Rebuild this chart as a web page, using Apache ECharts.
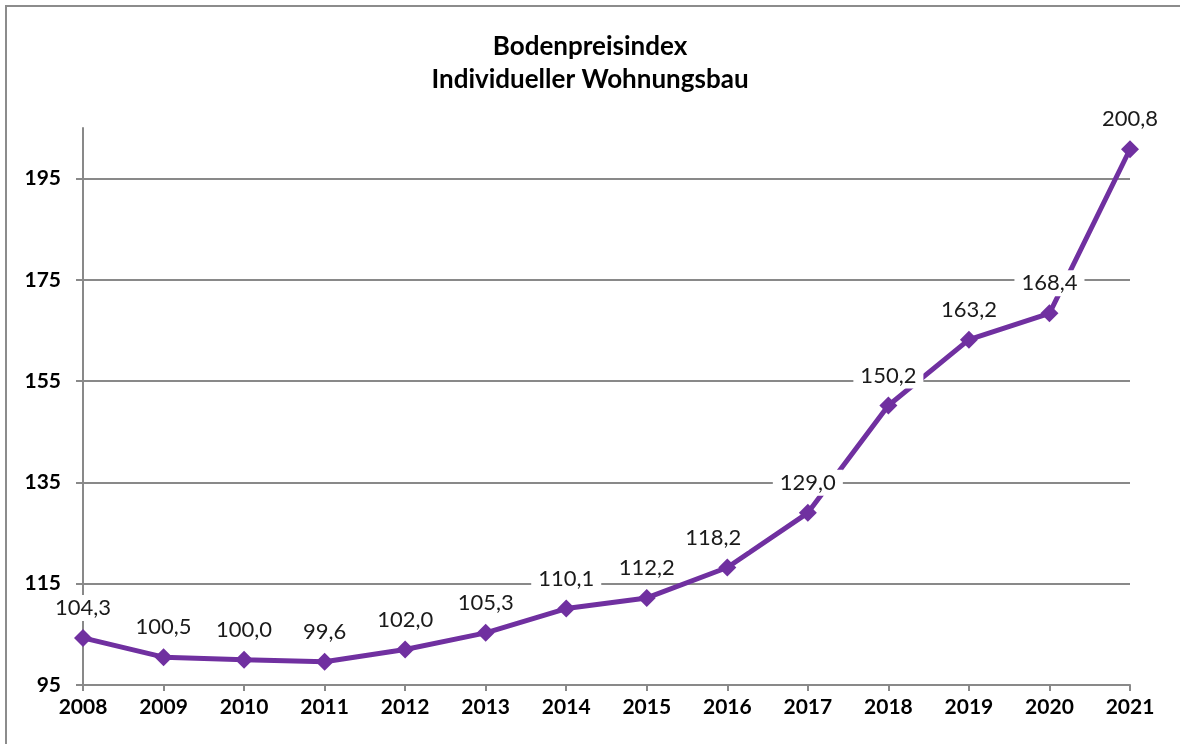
<!DOCTYPE html>
<html>
<head>
<meta charset="utf-8">
<script src="https://cdn.jsdelivr.net/npm/echarts@6/dist/echarts.min.js"></script>
<style>
html,body{margin:0;padding:0;background:#fff;}
#chart{width:1180px;height:744px;}
</style>
</head>
<body>
<div id="chart"></div>
<script>
const years = ['2008','2009','2010','2011','2012','2013','2014','2015','2016','2017','2018','2019','2020','2021'];
const indexValues = [104.3,100.5,100.0,99.6,102.0,105.3,110.1,112.2,118.2,129.0,150.2,163.2,168.4,200.8];
const yTicks = [95,115,135,155,175,195];
const titleLines = ['Bodenpreisindex','Individueller Wohnungsbau'];

const FONT = 'Lato, "Open Sans", sans-serif';
const labelOffsets = {8: [-14, 0]};

const chart = echarts.init(document.getElementById('chart'), null, {renderer:'canvas'});
chart.setOption({
  animation: false,
  backgroundColor: '#fff',
  title: {
    text: titleLines.join('\n'),
    left: 'center',
    top: 25,
    textStyle: {fontFamily: FONT, fontWeight: 'bold', fontSize: 26, color: '#000', lineHeight: 33}
  },
  graphic: [{
    type: 'polyline',
    shape: {points: [[6, 744], [6, 6], [1180, 6]]},
    style: {stroke: '#8c8c8c', lineWidth: 2, fill: null},
    silent: true
  }],
  grid: {left: 83, right: 50, top: 128, bottom: 59, containLabel: false},
  xAxis: {
    type: 'category',
    data: years,
    boundaryGap: false,
    axisLine: {lineStyle: {color: '#898989', width: 2}},
    axisTick: {show: true, length: 6, alignWithLabel: true, lineStyle: {color: '#898989', width: 2}},
    axisLabel: {fontFamily: FONT, fontWeight: 'bold', fontSize: 21, color: '#000', margin: 12},
    splitLine: {show: false}
  },
  yAxis: {
    type: 'value',
    min: 95,
    max: 205,
    interval: 20,
    axisLine: {show: true, lineStyle: {color: '#898989', width: 2}},
    axisTick: {show: true, length: 7, customValues: yTicks, lineStyle: {color: '#898989', width: 2}},
    axisLabel: {fontFamily: FONT, fontWeight: 'bold', fontSize: 21, color: '#000', margin: 22, customValues: yTicks},
    splitLine: {show: true, showMinLine: false, lineStyle: {color: '#898989', width: 2}}
  },
  series: [{
    type: 'line',
    data: indexValues.map((v, i) => ({
      value: v,
      label: labelOffsets[i] ? {offset: labelOffsets[i]} : undefined
    })),
    symbol: 'diamond',
    symbolSize: 18,
    lineStyle: {color: '#7030A0', width: 5},
    itemStyle: {color: '#7030A0'},
    label: {
      show: true,
      position: 'top',
      distance: 8,
      fontFamily: FONT,
      fontSize: 22,
      color: '#1a1a1a',
      backgroundColor: '#fff',
      padding: [2, 7],
      formatter: p => p.value.toFixed(1).replace('.', ',')
    },
    z: 3
  }]
});
</script>
</body>
</html>
